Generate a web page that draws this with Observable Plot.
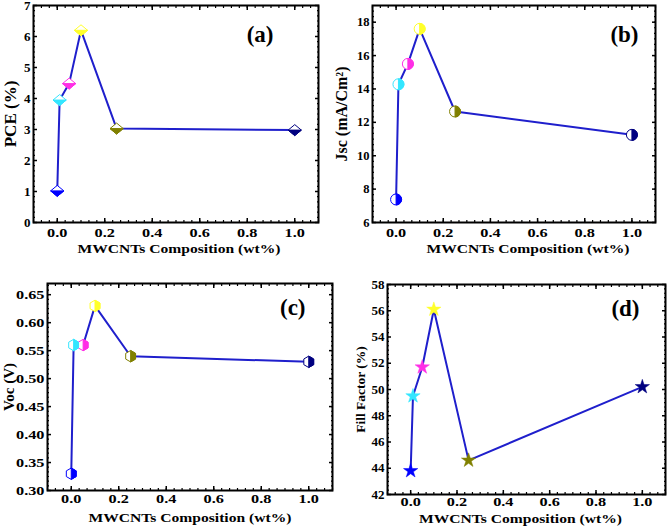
<!DOCTYPE html>
<html><head><meta charset="utf-8">
<script src="https://cdn.jsdelivr.net/npm/d3@7"></script>
<script src="https://cdn.jsdelivr.net/npm/@observablehq/plot@0.6"></script>
<style>
body{margin:0;background:#fff}
#wrap{position:relative;width:667px;height:526px;overflow:hidden}
#wrap>svg,#wrap>figure{position:absolute;margin:0}
</style>
</head><body><div id="wrap"></div>
<script>
// ---- data ----
const composition = [0, 0.01, 0.05, 0.1, 0.25, 1.0];
const pce = [1.02, 3.95, 4.48, 6.2, 3.03, 2.98];
const jsc = [7.38, 14.28, 15.5, 17.6, 12.65, 11.25];
const voc = [0.33, 0.56, 0.56, 0.63, 0.54, 0.53];
const fillFactor = [43.8, 49.5, 51.7, 56.1, 44.6, 50.2];
const pointColors = ["#0000ff", "#33e6ff", "#ff2ee6", "#ffff2a", "#808000", "#000080"];
const xTicks = [0, 0.2, 0.4, 0.6, 0.8, 1.0];
const pceTicks = [0, 1, 2, 3, 4, 5, 6, 7];
const jscTicks = [6, 8, 10, 12, 14, 16, 18];
const vocTicks = [0.30, 0.35, 0.40, 0.45, 0.50, 0.55, 0.60, 0.65];
const ffTicks = [42, 44, 46, 48, 50, 52, 54, 56, 58];
const xLabel = "MWCNTs Composition (wt%)";

// ---- custom half-filled symbols ----
function sym(fn) { return {draw(c, size) { fn(c, Math.sqrt(size / Math.PI)); }}; }
const W = 1.2;
const diamondFull = sym((c, r) => { c.moveTo(0, -r); c.lineTo(r * W, 0); c.lineTo(0, r); c.lineTo(-r * W, 0); c.closePath(); });
const diamondLower = sym((c, r) => { c.moveTo(-r * W, 0); c.lineTo(r * W, 0); c.lineTo(0, r); c.closePath(); });
const circleFull = sym((c, r) => { c.moveTo(r, 0); c.arc(0, 0, r, 0, 2 * Math.PI); c.closePath(); });
const circleRight = sym((c, r) => { c.moveTo(0, -r); c.arc(0, 0, r, -Math.PI / 2, Math.PI / 2); c.closePath(); });
const h = Math.sqrt(3) / 2;
const hexFull = sym((c, r) => { c.moveTo(0, -r); c.lineTo(r * h, -r / 2); c.lineTo(r * h, r / 2); c.lineTo(0, r); c.lineTo(-r * h, r / 2); c.lineTo(-r * h, -r / 2); c.closePath(); });
const hexRight = sym((c, r) => { c.moveTo(0, -r); c.lineTo(r * h, -r / 2); c.lineTo(r * h, r / 2); c.lineTo(0, r); c.closePath(); });

const font = "Liberation Serif, Times New Roman, serif";
const lineColor = "#1f1fcc";

function minor(domain, step) {
  const out = [];
  const n0 = Math.ceil(domain[0] / step - 1e-6), n1 = Math.floor(domain[1] / step + 1e-6);
  for (let i = n0; i <= n1; i++) out.push(i * step);
  return out;
}

// widen glyphs horizontally around each text's anchor point
function widen(texts, sx) {
  texts.forEach(t => {
    const tr = t.getAttribute("transform") || "";
    t.setAttribute("transform", `${tr} scale(${sx},1)`);
  });
}

function panel(o) {
  const rows = composition.map((x, i) => ({x, y: o.values[i], c: pointColors[i]}));
  const xDomain = [-0.1, 1.1];
  const xMinor = minor(xDomain, 0.2 / 6);
  const yMinor = minor(o.yDomain, o.yStep / 6);
  const blank = () => "";
  const marks = [
    Plot.axisX(xTicks, {anchor: "bottom", tickSize: 0, tickPadding: o.xPad, tickFormat: d3.format(".1f"),
      fontSize: 13, fontWeight: "bold", label: null, ariaLabel: "xticklabels"}),
    Plot.axisY(o.yTicks, {anchor: "left", tickSize: 0, tickPadding: 3, tickFormat: o.yFormat,
      fontSize: o.yTickSize, fontWeight: "bold", label: null, ariaLabel: "yticklabels"}),
    // inward ticks
    Plot.axisX(xTicks, {anchor: "bottom", tickSize: -4, strokeWidth: 1.5, tickFormat: blank, label: null}),
    Plot.axisX(xTicks, {anchor: "top", tickSize: -4, strokeWidth: 1.5, tickFormat: blank, label: null}),
    Plot.axisX(xMinor, {anchor: "bottom", tickSize: -2, strokeWidth: 1.2, tickFormat: blank, label: null}),
    Plot.axisX(xMinor, {anchor: "top", tickSize: -2, strokeWidth: 1.2, tickFormat: blank, label: null}),
    Plot.axisY(o.yTicks, {anchor: "left", tickSize: -4, strokeWidth: 1.5, tickFormat: blank, label: null}),
    Plot.axisY(o.yTicks, {anchor: "right", tickSize: -4, strokeWidth: 1.5, tickFormat: blank, label: null}),
    Plot.axisY(yMinor, {anchor: "left", tickSize: -2, strokeWidth: 1.2, tickFormat: blank, label: null}),
    Plot.axisY(yMinor, {anchor: "right", tickSize: -2, strokeWidth: 1.2, tickFormat: blank, label: null}),
    Plot.frame({stroke: "black", strokeWidth: 2}),
    Plot.line(rows, {x: "x", y: "y", stroke: lineColor, strokeWidth: 2}),
    ...o.markers(rows),
    Plot.text([xLabel], {frameAnchor: "bottom", textAnchor: "middle", lineAnchor: "middle", dx: o.xLabelDx, dy: o.xLabelDy,
      fontSize: 13, fontWeight: "bold", fill: "black"}),
    Plot.text([o.yLabel], {frameAnchor: "left", rotate: -90, textAnchor: "middle", lineAnchor: "middle", dx: o.yLabelDx,
      fontSize: o.yLabelSize, fontWeight: "bold", fill: "black"}),
    Plot.text([o.tag], {frameAnchor: "top-right", dx: o.tagDx, dy: o.tagDy, fontSize: 23, fontWeight: "bold", fill: "black"})
  ];
  const svg = Plot.plot({
    width: o.width, height: o.height,
    marginLeft: o.ml, marginRight: o.mr, marginTop: o.mt, marginBottom: o.mb,
    style: {fontFamily: font, fontSize: "13px", fontWeight: "bold", background: "transparent", overflow: "visible"},
    x: {domain: xDomain},
    y: {domain: o.yDomain},
    marks
  });
  widen(svg.querySelectorAll('g[aria-label^="xticklabels"] text'), 1.25);
  widen([...svg.querySelectorAll("text")].filter(t => t.textContent === xLabel), 1.2);
  if (o.yStretch) widen(svg.querySelectorAll('g[aria-label^="yticklabels"] text'), o.yStretch);
  svg.style.left = o.left + "px";
  svg.style.top = o.top + "px";
  document.getElementById("wrap").appendChild(svg);
}

// (a) diamonds
panel({
  left: 0, top: 0, width: 333, height: 260, ml: 33, mr: 15, mt: 5, mb: 38,
  values: pce, yDomain: [0, 7], yTicks: pceTicks, yStep: 1, yFormat: d3.format("d"), yTickSize: 13,
  yLabel: "PCE (%)", yLabelSize: 17, yLabelDx: -23, xPad: 5, xLabelDx: 3, xLabelDy: 26, tag: "(a)", tagDx: -45, tagDy: 20,
  markers: rows => [
    Plot.dot(rows, {x: "x", y: "y", symbol: diamondFull, r: 5.5, fill: "white", stroke: "c", strokeWidth: 1}),
    Plot.dot(rows, {x: "x", y: "y", symbol: diamondLower, r: 5.5, fill: "c", stroke: "c", strokeWidth: 1})
  ]
});
// (b) circles
panel({
  left: 333, top: 0, width: 334, height: 260, ml: 39, mr: 12, mt: 5, mb: 38,
  values: jsc, yDomain: [6, 19], yTicks: jscTicks, yStep: 2, yFormat: d3.format("d"), yTickSize: 12.5,
  yLabel: "Jsc (mA/Cm²)", yLabelSize: 16, yLabelDx: -31, xPad: 5, xLabelDx: 14, xLabelDy: 26, tag: "(b)", tagDx: -17, tagDy: 20,
  markers: rows => [
    Plot.dot(rows, {x: "x", y: "y", symbol: circleFull, r: 5.5, fill: "white", stroke: "c", strokeWidth: 1}),
    Plot.dot(rows, {x: "x", y: "y", symbol: circleRight, r: 5.5, fill: "c", stroke: "c", strokeWidth: 1})
  ]
});
// (c) hexagons
panel({
  left: 0, top: 260, width: 333, height: 266, ml: 47, mr: 1, mt: 23, mb: 36,
  values: voc, yDomain: [0.30, 0.67], yTicks: vocTicks, yStep: 0.05, yFormat: d3.format(".2f"), yTickSize: 12.5, yStretch: 1.3,
  yLabel: "Voc (V)", yLabelSize: 15, yLabelDx: -38, xPad: 3, xLabelDx: 0, xLabelDy: 27, tag: "(c)", tagDx: -27, tagDy: 15,
  markers: rows => [
    Plot.dot(rows, {x: "x", y: "y", symbol: hexFull, r: 5.7, fill: "white", stroke: "c", strokeWidth: 1}),
    Plot.dot(rows, {x: "x", y: "y", symbol: hexRight, r: 5.7, fill: "c", stroke: "c", strokeWidth: 1})
  ]
});
// (d) stars
panel({
  left: 333, top: 260, width: 334, height: 266, ml: 54, mr: 2, mt: 24, mb: 32,
  values: fillFactor, yDomain: [42, 58], yTicks: ffTicks, yStep: 2, yFormat: d3.format("d"), yTickSize: 13,
  yLabel: "Fill Factor (%)", yLabelSize: 13.5, yLabelDx: -27, xPad: 2, xLabelDx: -6, xLabelDy: 24, tag: "(d)", tagDx: -26, tagDy: 15,
  markers: rows => [
    Plot.dot(rows, {x: "x", y: "y", symbol: "star", r: 4.5, fill: "c", stroke: "c", strokeWidth: 0.5})
  ]
});
</script>
</body></html>
